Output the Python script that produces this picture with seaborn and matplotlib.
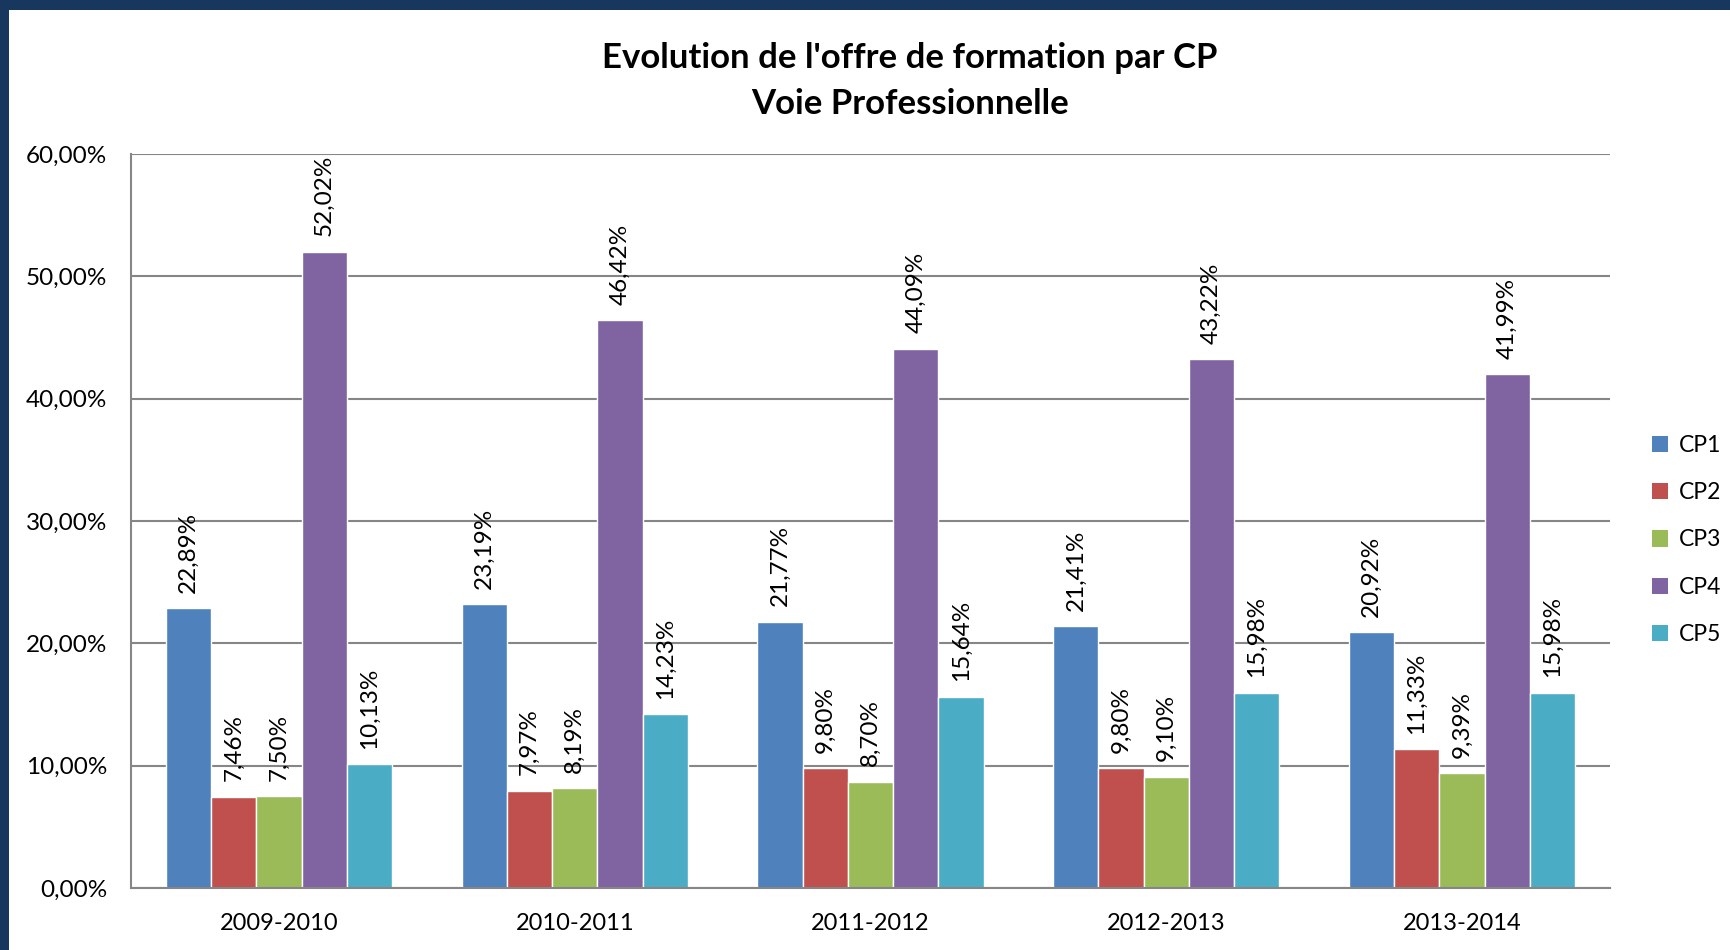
import matplotlib
matplotlib.use("Agg")
import matplotlib.pyplot as plt
import seaborn as sns
import pandas as pd
from matplotlib.patches import Rectangle, Patch

years = ["2009-2010", "2010-2011", "2011-2012", "2012-2013", "2013-2014"]
series = ["CP1", "CP2", "CP3", "CP4", "CP5"]
cp1 = [22.89, 23.19, 21.77, 21.41, 20.92]
cp2 = [7.46, 7.97, 9.80, 9.80, 11.33]
cp3 = [7.50, 8.19, 8.70, 9.10, 9.39]
cp4 = [52.02, 46.42, 44.09, 43.22, 41.99]
cp5 = [10.13, 14.23, 15.64, 15.98, 15.98]
colors = ["#4F81BD", "#C0504D", "#9BBB59", "#8064A2", "#4BACC6"]
yticks = [0, 10, 20, 30, 40, 50, 60]

sns.set_theme(style="white")
plt.rcParams['font.family'] = ['Lato', 'DejaVu Sans']
plt.rcParams['text.color'] = 'black'
plt.rcParams['xtick.color'] = 'black'
plt.rcParams['ytick.color'] = 'black'

values = {"CP1": cp1, "CP2": cp2, "CP3": cp3, "CP4": cp4, "CP5": cp5}
rows = []
for s in series:
    for y, v in zip(years, values[s]):
        rows.append({"year": y, "serie": s, "value": v})
df = pd.DataFrame(rows)

fig = plt.figure(figsize=(17.31, 9.5), dpi=100)
fig.patch.set_facecolor("white")
ax = fig.add_axes([131/1731, 1-888/950, (1610-131)/1731, (888-154)/950])

sns.barplot(data=df, x="year", y="value", hue="serie", hue_order=series,
            palette=colors, width=0.765, saturation=1, gap=0, ax=ax,
            legend=False, errorbar=None)

for cont, s in zip(ax.containers, series):
    labels = [f"{v:.2f}".replace(".", ",") + "%" for v in values[s]]
    ax.bar_label(cont, labels=labels, rotation=90, padding=11, fontsize=17.5, color="black")

ax.set_ylim(0, 60)
ax.set_yticks(yticks)
ax.set_yticklabels([f"{t:.2f}".replace(".", ",") + "%" for t in yticks], fontsize=17.5)
ax.tick_params(axis="y", pad=17, length=0, colors="black")
ax.tick_params(axis="x", pad=18, length=0, labelsize=17, colors="black")
ax.set_xlabel("")
ax.set_ylabel("")
ax.grid(axis="y", color="#868686", linewidth=1.5)
ax.set_axisbelow(True)
for side in ["top", "right"]:
    ax.spines[side].set_visible(False)
for side in ["left", "bottom"]:
    ax.spines[side].set_color("#868686")
    ax.spines[side].set_linewidth(1.5)

handles = [Patch(facecolor=c, edgecolor="none") for c in colors]
fig.legend(handles, series, loc="center left", bbox_to_anchor=(1652/1731, 1-540/950),
           frameon=False, fontsize=16.5, handlelength=0.72, handleheight=0.72,
           labelspacing=1.15, handletextpad=0.45, borderpad=0, borderaxespad=0,
           labelcolor="black")

fig.text(910/1731, 1-58/950, "Evolution de l'offre de formation par CP", ha="center", va="center",
         fontsize=25, fontweight="bold", color="black")
fig.text(910/1731, 1-104/950, "Voie Professionnelle", ha="center", va="center",
         fontsize=25, fontweight="bold", color="black")

fig.patches.append(Rectangle((0, 1-10/950), 1, 10/950, transform=fig.transFigure,
                             facecolor="#17375E", edgecolor="none", zorder=10))
fig.patches.append(Rectangle((0, 0), 9/1731, 1, transform=fig.transFigure,
                             facecolor="#17375E", edgecolor="none", zorder=10))

fig.savefig("out.png", dpi=100)
